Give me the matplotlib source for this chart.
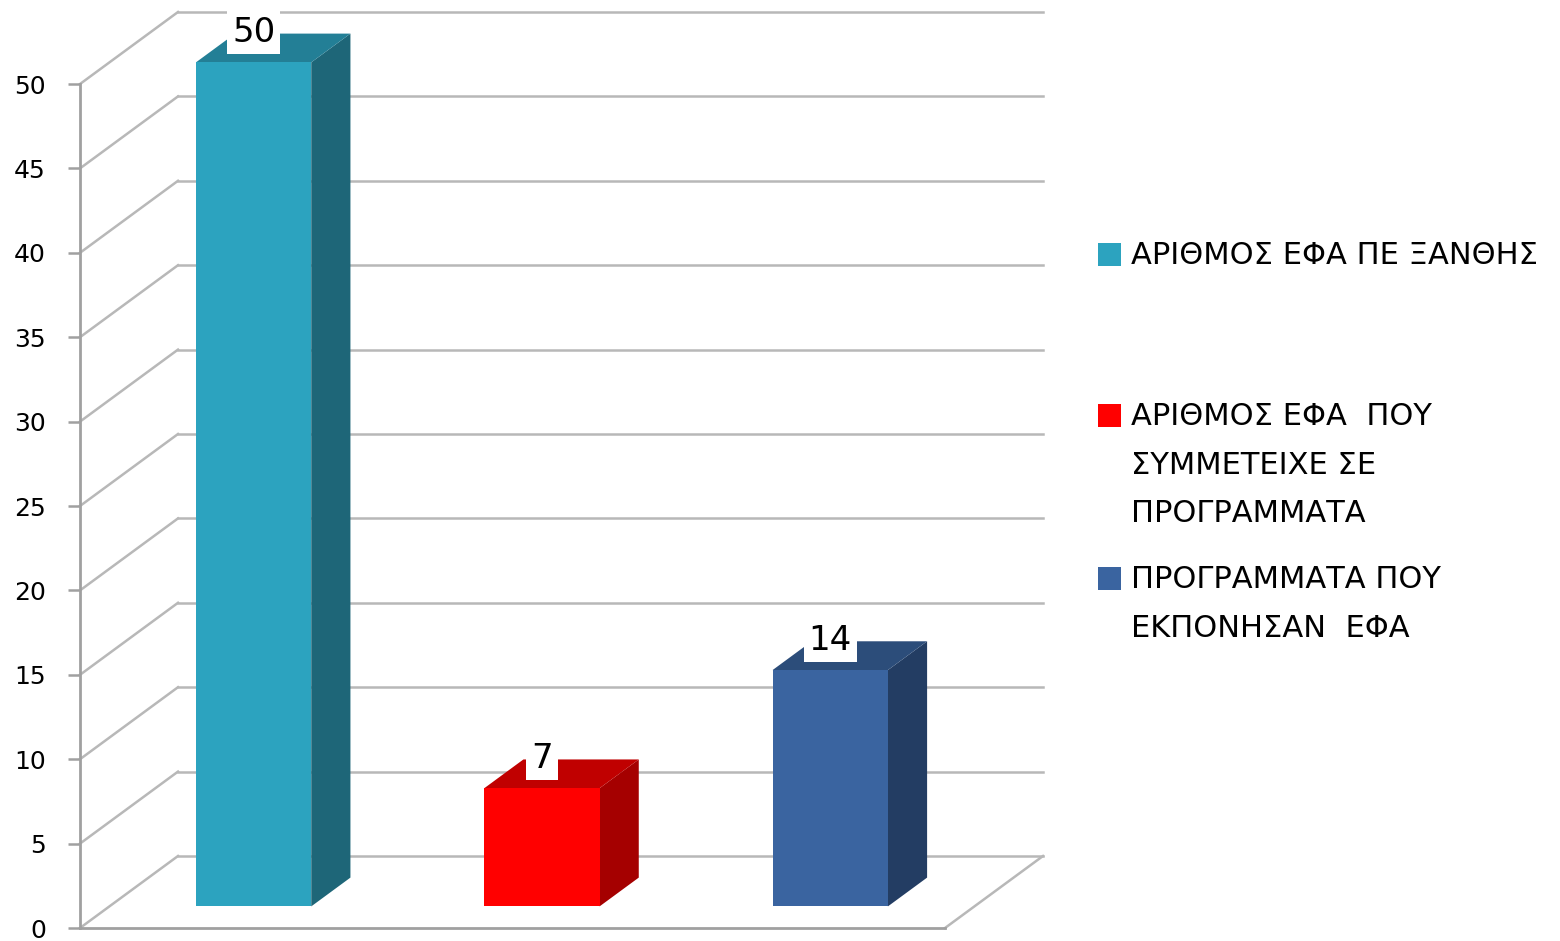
import matplotlib
matplotlib.use("Agg")
import matplotlib.pyplot as plt
from matplotlib.patches import Polygon, Rectangle

# Data
series = ["ΑΡΙΘΜΟΣ ΕΦΑ ΠΕ ΞΑΝΘΗΣ",
          "ΑΡΙΘΜΟΣ ΕΦΑ  ΠΟΥ\nΣΥΜΜΕΤΕΙΧΕ ΣΕ\nΠΡΟΓΡΑΜΜΑΤΑ",
          "ΠΡΟΓΡΑΜΜΑΤΑ ΠΟΥ\nΕΚΠΟΝΗΣΑΝ  ΕΦΑ"]
values = [50, 7, 14]
yticks = [0, 5, 10, 15, 20, 25, 30, 35, 40, 45, 50]

# colours: front, side, top
front_colors = ["#2CA3BF", "#FF0000", "#3A64A0"]
side_colors = ["#1E6678", "#A50000", "#233D63"]
top_colors = ["#237F96", "#C00000", "#2C4D7A"]

W, H = 1560, 941
fig = plt.figure(figsize=(W / 100, H / 100), dpi=100)
# front plane of the 3d box
ax = fig.add_axes([80 / W, (H - 928) / H, 865 / W, 844 / H])
ax.set_xlim(0, 3)
ax.set_ylim(0, 50)

DX = 98 / 865 * 3     # depth offset in x data units
DY = 72 / 844 * 50    # depth offset in y data units


def P(x, y, d):
    return (x + d * DX, y + d * DY)


grid_kw = dict(color="#B8B8B8", lw=1.8, clip_on=False, zorder=1)

# back wall and left wall gridlines
for v in yticks:
    x0, y0 = P(0, v, 1)
    x1, y1 = P(3, v, 1)
    ax.plot([x0, x1], [y0, y1], **grid_kw)
    xa, ya = P(0, v, 0)
    ax.plot([xa, x0], [ya, y0], **grid_kw)

# floor right edge
xa, ya = P(3, 0, 0)
xb, yb = P(3, 0, 1)
ax.plot([xa, xb], [ya, yb], **grid_kw)

# bars
d0, d1 = 0.3, 0.7
hw = 0.2
for i, v in enumerate(values):
    c = i + 0.5
    front = [P(c - hw, 0, d0), P(c + hw, 0, d0), P(c + hw, v, d0), P(c - hw, v, d0)]
    side = [P(c + hw, 0, d0), P(c + hw, 0, d1), P(c + hw, v, d1), P(c + hw, v, d0)]
    top = [P(c - hw, v, d0), P(c + hw, v, d0), P(c + hw, v, d1), P(c - hw, v, d1)]
    ax.add_patch(Polygon(side, closed=True, facecolor=side_colors[i], edgecolor="none",
                         zorder=3, clip_on=False))
    ax.add_patch(Polygon(top, closed=True, facecolor=top_colors[i], edgecolor="none",
                         zorder=3, clip_on=False))
    ax.add_patch(Polygon(front, closed=True, facecolor=front_colors[i], edgecolor="none",
                         zorder=4, clip_on=False))
    lx, ly = P(c, v, d0)
    ax.annotate(str(v), (lx, ly), xytext=(0, 21.5), textcoords="offset points",
                ha="center", va="center", fontsize=24.5,
                color="black", zorder=6, annotation_clip=False,
                bbox=dict(boxstyle="square,pad=0.15", facecolor="white", edgecolor="none"))

# axes styling
for s in ["top", "right"]:
    ax.spines[s].set_visible(False)
for s in ["left", "bottom"]:
    ax.spines[s].set_color("#A0A0A0")
    ax.spines[s].set_linewidth(2)
ax.set_xticks([])
ax.set_yticks(yticks)
ax.tick_params(axis="y", direction="out", length=8.5, width=1.8, color="#A0A0A0",
               labelsize=18, pad=16)
ax.set_facecolor("none")

# legend
legend_y = [254, 415, 578]
for i, name in enumerate(series):
    yc = legend_y[i]
    fig.patches.append(Rectangle((1098 / W, (H - yc - 11.5) / H), 23 / W, 23 / H,
                                 transform=fig.transFigure, facecolor=front_colors[i],
                                 edgecolor="none"))
    fig.text(1131 / W, (H - yc + 13) / H, name, ha="left", va="top", fontsize=22,
             linespacing=1.85, color="black")

fig.savefig("out.png", dpi=100)
